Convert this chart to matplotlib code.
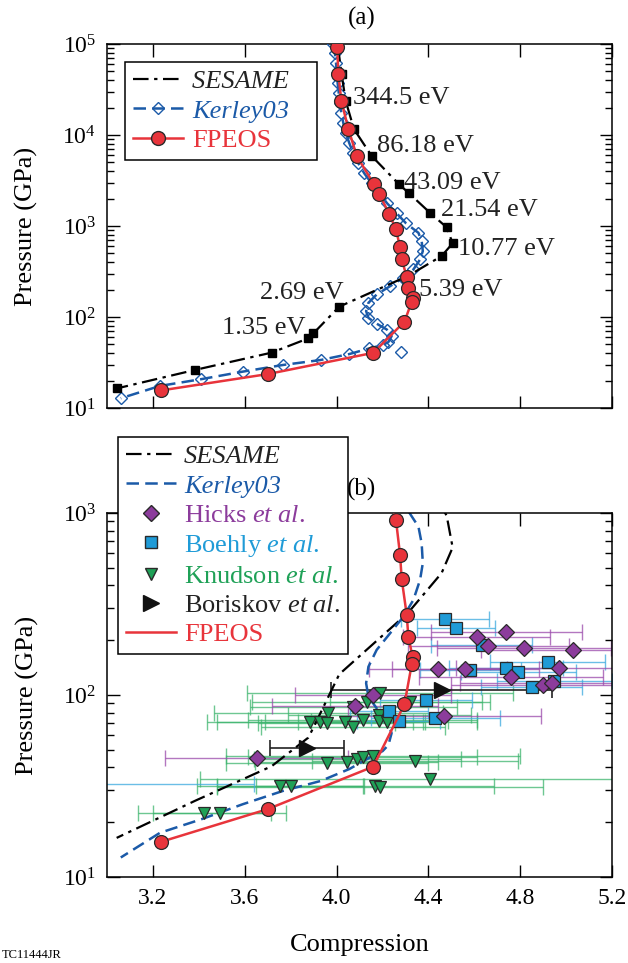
import matplotlib
matplotlib.use('Agg')
import matplotlib.pyplot as plt
from matplotlib.lines import Line2D
from matplotlib.ticker import NullFormatter, FixedLocator

plt.rcParams['font.family'] = ['Liberation Serif', 'DejaVu Serif']
plt.rcParams['mathtext.fontset'] = 'custom'
plt.rcParams['mathtext.rm'] = 'Liberation Serif'
plt.rcParams['mathtext.it'] = 'Liberation Serif:italic'

# ---- model curves (compression, pressure in GPa) ----
fpeos_comp = [4.003, 4.008, 4.021, 4.052, 4.088, 4.163, 4.187, 4.230, 4.259, 4.277,
              4.284, 4.306, 4.313, 4.332, 4.328, 4.296, 4.160, 3.700, 3.235]
fpeos_p = [93300, 46800, 23700, 11600, 5890, 2880, 2240, 1350, 916, 587,
           434, 275, 209, 161, 148, 88.9, 40.4, 23.6, 15.6]

sesame_comp = [4.006, 4.022, 4.040, 4.076, 4.153, 4.272, 4.316, 4.407, 4.480, 4.506,
               4.458, 4.313, 4.012, 3.899, 3.877, 3.717, 3.383, 3.042]
sesame_p = [95100, 46800, 23700, 11600, 5890, 2880, 2290, 1400, 966, 646,
            468, 284, 130, 66.1, 58.3, 40.6, 26.2, 16.4]
sesame_labels = ['344.5 eV', '86.18 eV', '43.09 eV', '21.54 eV', '10.77 eV',
                 '5.39 eV', '2.69 eV', '1.35 eV']
sesame_label_idx = [2, 4, 5, 7, 9, 11, 12, 13]

kerley_comp = [3.985, 3.993, 3.998, 4.001, 4.005, 4.010, 4.015, 4.021, 4.030, 4.041,
               4.056, 4.073, 4.095, 4.121, 4.153, 4.187, 4.221, 4.262, 4.303, 4.357,
               4.371, 4.376, 4.364, 4.335, 4.291, 4.233, 4.175, 4.139, 4.129, 4.139,
               4.175, 4.219, 4.240, 4.226, 4.201, 4.143, 4.056, 3.931, 3.766, 3.591,
               3.408, 3.231, 3.060]
kerley_p = [100000, 79100, 61400, 47600, 37000, 28700, 22300, 17300, 13400, 10400,
            8110, 6300, 4890, 3790, 2940, 2290, 1770, 1380, 1070, 841,
            681, 530, 429, 333, 269, 218, 177, 143, 116, 97.9,
            84.5, 72.9, 61.7, 53.1, 49.2, 45.2, 39.2, 33.7, 29.7, 25.1,
            20.7, 17.5, 12.8]
kerley_off_comp = [4.28]
kerley_off_p = [40.9]

# ---- experiments ----
hicks_comp = [4.740, 4.611, 4.662, 4.818, 5.029, 4.441, 4.561, 4.970, 4.760, 4.898,
              4.940, 4.160, 4.470, 4.081, 3.652]
hicks_p = [221, 207, 186, 181, 176, 139, 139, 141, 126, 113, 117, 100, 76.9, 87.1, 44.9]
hicks_err = [0.33, 0.32, 0.35, 0.38, 0.40, 0.30, 0.32, 0.45, 0.40, 0.40,
             0.40, 0.34, 0.42, 0.36, 0.40]

boehly_comp = [4.473, 4.521, 4.633, 4.582, 4.739, 4.792, 4.920, 4.949, 4.850, 4.390,
               4.230, 4.271, 4.431, 2.950]
boehly_p = [261, 232, 188, 138, 141, 133, 151, 120, 111, 94.2, 82.0, 72.3, 74.8, 32.4]
boehly_err = [0.19, 0.17, 0.22, 0.22, 0.25, 0.25, 0.25, 0.25, 0.22, 0.20,
              0.17, 0.18, 0.28, 0.69]

knudson_comp = [4.190, 4.132, 4.320, 4.073, 3.965, 4.187, 3.885, 3.928, 3.957, 4.037,
                4.073, 4.114, 4.187, 4.221, 3.957, 4.044, 4.091, 4.114, 4.160, 4.342,
                4.407, 3.754, 3.800, 4.168, 4.190, 3.424, 3.492]
knudson_p = [103, 91.8, 91.8, 85.5, 79.4, 77.6, 71.3, 71.3, 70.5, 71.3,
             67.0, 72.9, 72.3, 71.3, 42.2, 43.1, 44.4, 45.5, 46.2, 43.4,
             34.4, 31.6, 31.6, 31.6, 31.1, 22.5, 22.5]
knudson_err = [0.58, 0.50, 0.35, 0.45, 0.50, 0.40, 0.45, 0.45, 0.30, 0.35,
               0.40, 0.50, 0.30, 0.39, 0.44, 0.40, 0.45, 0.50, 0.64, 0.45,
               1.00, 0.36, 0.32, 0.52, 0.71, 0.29, 0.29]

boriskov_comp = [4.458, 3.871]
boriskov_p = [106, 50.9]
boriskov_err = [0.48, 0.16]

RED = '#e8343b'
BLUE = '#1b5aa8'
PURPLE = '#8c3c9c'
CYAN = '#1f9bd7'
GREEN = '#1fa157'
EDGE = '#2a2a2a'
SES_LS = (0, (7, 2.5, 1.5, 2.5))
KER_LS = (0, (5, 2.5))

fig = plt.figure(figsize=(6.28, 9.63), dpi=100)
ax1 = fig.add_axes([0.1704, 0.5763, 0.804, 0.378])
ax2 = fig.add_axes([0.1704, 0.0893, 0.804, 0.378])

for ax in (ax1, ax2):
    ax.set_yscale('log')
    ax.set_xlim(3.0, 5.2)
    ax.xaxis.set_major_locator(FixedLocator([3.2, 3.6, 4.0, 4.4, 4.8, 5.2]))
    ax.yaxis.set_minor_formatter(NullFormatter())
    ax.tick_params(which='both', direction='in', top=True, right=True, width=1,
                   labelsize=17, pad=8)
    ax.tick_params(which='major', length=9)
    ax.tick_params(which='minor', length=5)
    for s in ax.spines.values():
        s.set_linewidth(1.1)
    ax.set_ylabel('Pressure (GPa)', fontsize=19, labelpad=17)

# ---- panel (a) ----
ax1.set_ylim(10, 1e5)
ax1.tick_params(labelbottom=False)
ax1.plot(kerley_comp, kerley_p, ls=KER_LS, color=BLUE, lw=1.8, marker='D', ms=6.5,
         mfc='none', mec=BLUE, mew=1.0, zorder=3)
ax1.plot(kerley_off_comp, kerley_off_p, ls='none', marker='D', ms=6.5,
         mfc='none', mec=BLUE, mew=1.0, zorder=3)
ax1.plot(sesame_comp, sesame_p, ls=SES_LS, color='k', lw=1.6, marker='s', ms=5.5,
         zorder=4)
ax1.plot(fpeos_comp, fpeos_p, '-', color=RED, lw=1.8, marker='o', ms=10,
         mfc=RED, mec=EDGE, mew=0.9, zorder=5)

label_offsets = [(5, 2, 'left'), (4, 7, 'left'), (4, 1, 'left'), (8, 2, 'left'),
                 (4, -4, 'left'), (8, -10, 'left'), (3, 10, 'right'), (-6, 4, 'right')]
for txt, i, (dx, dy, ha) in zip(sesame_labels, sesame_label_idx, label_offsets):
    ax1.annotate(txt, (sesame_comp[i], sesame_p[i]), xytext=(dx, dy),
                 textcoords='offset points', ha=ha, va='center', fontsize=19,
                 color='#222222', zorder=6)

h_a = [Line2D([], [], color='k', ls=SES_LS, lw=1.6),
       Line2D([], [], color=BLUE, ls=KER_LS, lw=1.8, marker='D', ms=6.5,
              mfc='none', mec=BLUE),
       Line2D([], [], color=RED, lw=1.8, marker='o', ms=10, mfc=RED, mec=EDGE)]
leg1 = ax1.legend(h_a, ['SESAME   ', 'Kerley03', 'FPEOS'], loc='upper left',
                  bbox_to_anchor=(0.036, 0.951), borderaxespad=0, fontsize=19,
                  fancybox=False, edgecolor='k', framealpha=1, handlelength=1.9,
                  handletextpad=0.35, labelspacing=0.22, borderpad=0.3)
leg1.get_frame().set_linewidth(1.1)
for t, c, st in zip(leg1.get_texts(), ['#222222', BLUE, RED],
                    ['italic', 'italic', 'normal']):
    t.set_color(c)
    t.set_style(st)

# ---- panel (b) ----
ax2.set_ylim(10, 1000)
ax2.set_xlabel('Compression', fontsize=19, labelpad=18)

bar_kw = dict(fmt='none', elinewidth=1.0, capsize=6, capthick=1.0, alpha=0.75, zorder=1)
ax2.errorbar(knudson_comp, knudson_p, xerr=knudson_err, ecolor='#3db56e', **bar_kw)
ax2.errorbar(boehly_comp, boehly_p, xerr=boehly_err, ecolor='#3aa9de', **bar_kw)
ax2.errorbar(hicks_comp, hicks_p, xerr=hicks_err, ecolor='#9a4aab', **bar_kw)
ax2.errorbar(boriskov_comp, boriskov_p, xerr=boriskov_err, ecolor='#222222',
             fmt='none', elinewidth=1.2, capsize=6, capthick=1.2, zorder=1)

ax2.plot(sesame_comp, sesame_p, ls=SES_LS, color='k', lw=1.6, zorder=2)
ax2.plot(kerley_comp, kerley_p, ls=KER_LS, color=BLUE, lw=1.8, zorder=2)

ax2.plot(knudson_comp, knudson_p, ls='none', marker='v', ms=9, mfc=GREEN,
         mec=EDGE, mew=0.9, zorder=3)
ax2.plot(boehly_comp, boehly_p, ls='none', marker='s', ms=8.5, mfc=CYAN,
         mec=EDGE, mew=0.9, zorder=3)
ax2.plot(hicks_comp, hicks_p, ls='none', marker='D', ms=8, mfc=PURPLE,
         mec=EDGE, mew=0.9, zorder=4)
ax2.plot(boriskov_comp, boriskov_p, ls='none', marker='>', ms=11, mfc='#111111',
         mec='#111111', zorder=4)
ax2.plot(fpeos_comp, fpeos_p, '-', color=RED, lw=1.8, marker='o', ms=10,
         mfc=RED, mec=EDGE, mew=0.9, zorder=5)

h_b = [Line2D([], [], color='k', ls=SES_LS, lw=1.6),
       Line2D([], [], color=BLUE, ls=KER_LS, lw=1.8),
       Line2D([], [], ls='none', marker='D', ms=8, mfc=PURPLE, mec=EDGE),
       Line2D([], [], ls='none', marker='s', ms=8.5, mfc=CYAN, mec=EDGE),
       Line2D([], [], ls='none', marker='v', ms=9, mfc=GREEN, mec=EDGE),
       Line2D([], [], ls='none', marker='>', ms=11, mfc='#111111', mec='#111111'),
       Line2D([], [], color=RED, lw=1.8)]
lab_b = ['SESAME', 'Kerley03', r'Hicks $\mathit{et\ al.}$', r'Boehly $\mathit{et\ al.}$',
         r'Knudson $\mathit{et\ al.}$', r'Boriskov $\mathit{et\ al.}$', 'FPEOS']
leg2 = ax2.legend(h_b, lab_b, loc='upper left', bbox_to_anchor=(0.022, 1.209),
                  borderaxespad=0, fontsize=19, fancybox=False, edgecolor='k',
                  framealpha=1, handlelength=1.9, handletextpad=0.3,
                  labelspacing=0.22, borderpad=0.3)
leg2.get_frame().set_linewidth(1.1)
leg2.set_zorder(10)
for t, c in zip(leg2.get_texts(), ['#222222', BLUE, PURPLE, CYAN, GREEN, '#222222', RED]):
    t.set_color(c)
leg2.get_texts()[0].set_style('italic')
leg2.get_texts()[1].set_style('italic')

fig.text(362 / 628, 1 - 18 / 963, '(a)', ha='center', va='center', fontsize=18)
fig.text(362 / 628, 1 - 489 / 963, '(b)', ha='center', va='center', fontsize=18)
fig.text(0.002, 1 - 955 / 963, 'TC11444JR', ha='left', va='center', fontsize=9)

fig.savefig('out.png', dpi=100)
